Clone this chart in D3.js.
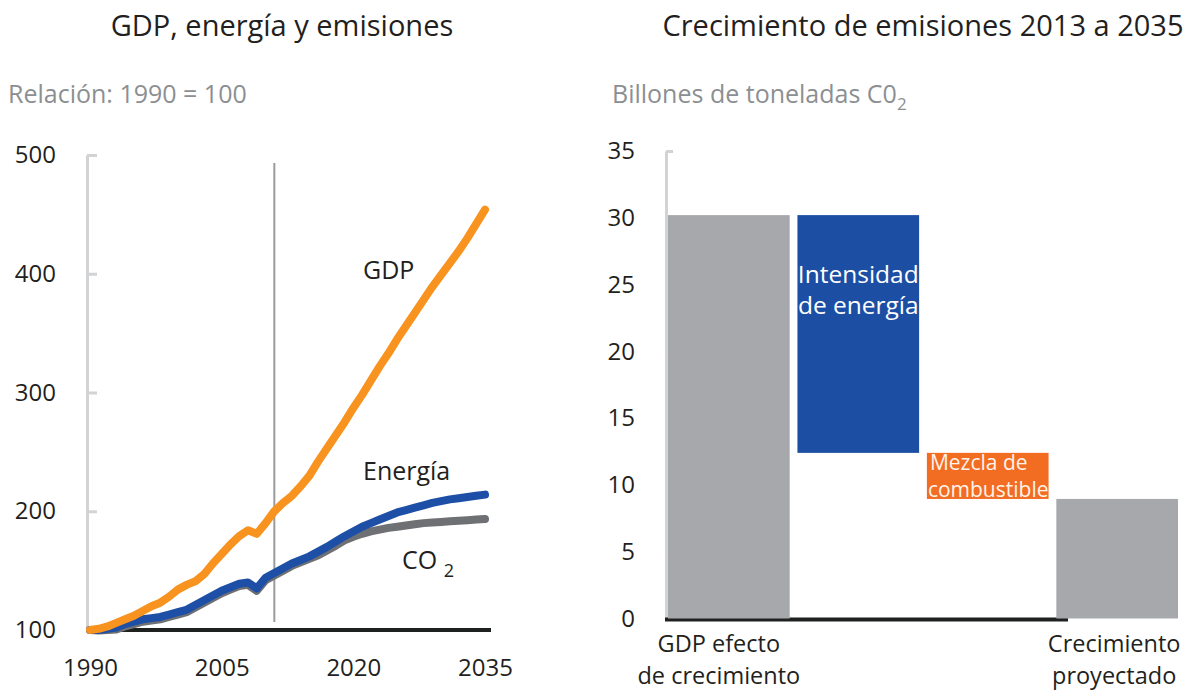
<!DOCTYPE html>
<html>
<head>
<meta charset="utf-8">
<script src="https://cdn.jsdelivr.net/npm/d3@7"></script>
<style>
  body { margin: 0; background: #fff; }
  svg { display: block; font-family: "Open Sans", sans-serif; }
</style>
</head>
<body>
<svg id="chart" width="1193" height="694"></svg>
<script>
// left panel: index 1990 = 100
var years = d3.range(1990, 2036);
var gdp = [100, 101, 103, 106, 109, 112, 116, 120, 123, 128, 134, 138, 141, 147, 156, 164, 172, 179, 184, 181,
  190, 200, 207, 213, 221, 230, 242, 253, 264, 275, 287, 298, 310, 322, 333, 345, 356, 367, 378, 389,
  399, 409, 419, 430, 442, 454];
var energia = [100, 100, 101, 102, 105, 107, 109, 110, 111, 113, 115, 117, 121, 125, 129, 133, 136, 139, 140, 135,
  144, 148, 152, 156, 159, 162, 166, 170, 174.5, 179, 183, 187, 190, 193, 196, 199, 201, 203, 205, 207,
  208.5, 210, 211, 212, 213, 214];
var co2 = [100, 99.5, 100, 100.5, 103, 105, 107, 108, 109, 111, 113, 115, 119, 123, 127, 131, 134, 137, 138, 133,
  142, 146, 150, 154, 157, 160, 163, 167, 171, 175.5, 178.5, 181, 183, 184.5, 186, 187, 188, 189, 190, 190.5,
  191, 191.5, 192, 192.5, 193, 193.5];
var leftTicksY = [100, 200, 300, 400, 500];
var leftTicksX = [1990, 2005, 2020, 2035];
var markerYear = 2011;

// right panel: waterfall, billions of tonnes
var wfCategories = ["GDP efecto de crecimiento", "Intensidad de energía", "Mezcla de combustible", "Crecimiento proyectado"];
var wfChanges = [30.2, -17.8, -3.45, null]; // null = total
var wfColors = ["#a6a8ab", "#1c4ea3", "#f26c22", "#a6a8ab"];
var rightTicksY = [0, 5, 10, 15, 20, 25, 30, 35];

var svg = d3.select("#chart");
var ink = "#231f20";

// ---------- left panel ----------
var x = d3.scaleLinear().domain([1990, 2035]).range([90, 485]);
var y = d3.scaleLinear().domain([100, 500]).range([630, 155]);

svg.append("text").attr("x", 282).attr("y", 36).attr("text-anchor", "middle")
  .attr("font-size", 29).attr("fill", ink).text("GDP, energía y emisiones");
svg.append("text").attr("x", 8).attr("y", 103)
  .attr("font-size", 25).attr("fill", "#8c8f92").text("Relación: 1990 = 100");

var yAxisL = svg.append("g").attr("transform", "translate(87,0)")
  .call(d3.axisLeft(y).tickValues(leftTicksY).tickSize(-10).tickSizeOuter(0).tickPadding(31));
yAxisL.select(".domain").attr("stroke", "#d2d3d4").attr("stroke-width", 3);
yAxisL.selectAll(".tick line").attr("stroke", "#d2d3d4").attr("stroke-width", 3);
yAxisL.selectAll(".tick text").attr("font-size", 24).attr("fill", ink).attr("font-family", "Open Sans");

var xAxisL = svg.append("g").attr("transform", "translate(0,630)")
  .call(d3.axisBottom(x).tickValues(leftTicksX).tickSize(0).tickPadding(29).tickFormat(d3.format("d")));
xAxisL.select(".domain").remove();
xAxisL.selectAll(".tick text").attr("font-size", 24).attr("fill", ink).attr("font-family", "Open Sans");

// projection marker
svg.append("line").attr("x1", x(markerYear)).attr("x2", x(markerYear))
  .attr("y1", 163).attr("y2", 622).attr("stroke", "#9a9b9d").attr("stroke-width", 2);

// black baseline
svg.append("line").attr("x1", x(1990)).attr("x2", x(2035) + 6)
  .attr("y1", y(100)).attr("y2", y(100)).attr("stroke", "#1f2120").attr("stroke-width", 4);

var line = d3.line().x(function(d, i) { return x(years[i]); }).y(function(d) { return y(d); });
[[co2, "#6e7073"], [energia, "#1e4fa6"], [gdp, "#f7931e"]].forEach(function(s) {
  svg.append("path").datum(s[0]).attr("d", line)
    .attr("fill", "none").attr("stroke", s[1]).attr("stroke-width", 8)
    .attr("stroke-linecap", "round").attr("stroke-linejoin", "round");
});

svg.append("text").attr("x", 363).attr("y", 279).attr("font-size", 25).attr("fill", ink).text("GDP");
svg.append("text").attr("x", 363).attr("y", 480).attr("font-size", 25).attr("fill", ink).text("Energía");
var co2Label = svg.append("text").attr("x", 402).attr("y", 569).attr("font-size", 25).attr("fill", ink);
co2Label.append("tspan").text("CO ");
co2Label.append("tspan").attr("font-size", 18).attr("dy", 8).text("2");

// ---------- right panel ----------
var yR = d3.scaleLinear().domain([0, 35]).range([618.5, 151]);
var xR = d3.scaleBand().domain(wfCategories).range([668, 1178]).paddingInner(0.06).paddingOuter(0);

svg.append("text").attr("x", 923).attr("y", 36).attr("text-anchor", "middle")
  .attr("font-size", 29).attr("fill", ink).text("Crecimiento de emisiones 2013 a 2035");
var sub = svg.append("text").attr("x", 612).attr("y", 103).attr("font-size", 25).attr("fill", "#8c8f92");
sub.append("tspan").text("Billones de toneladas C0");
sub.append("tspan").attr("font-size", 17).attr("dy", 7).text("2");

var yAxisR = svg.append("g").attr("transform", "translate(666,0)")
  .call(d3.axisLeft(yR).tickValues(rightTicksY).tickSize(-7).tickSizeOuter(0).tickPadding(31));
yAxisR.select(".domain").attr("stroke", "#d2d3d4").attr("stroke-width", 3);
yAxisR.selectAll(".tick line").attr("stroke", "#d2d3d4").attr("stroke-width", 3);
yAxisR.selectAll(".tick text").attr("font-size", 24).attr("fill", ink).attr("font-family", "Open Sans");

svg.append("line").attr("x1", 665).attr("x2", 1068)
  .attr("y1", yR(0) + 1).attr("y2", yR(0) + 1).attr("stroke", "#1f2120").attr("stroke-width", 4);

// running totals for the waterfall
var running = 0;
var wfBars = wfCategories.map(function(c, i) {
  var start, end;
  if (wfChanges[i] === null) { start = 0; end = running; }
  else { start = running; end = running + wfChanges[i]; running = end; }
  return { cat: c, lo: Math.min(start, end), hi: Math.max(start, end), color: wfColors[i] };
});

svg.selectAll(".wf").data(wfBars).enter().append("rect")
  .attr("x", function(d) { return xR(d.cat); })
  .attr("width", xR.bandwidth())
  .attr("y", function(d) { return yR(d.hi); })
  .attr("height", function(d) { return yR(d.lo) - yR(d.hi); })
  .attr("fill", function(d) { return d.color; });

// labels under the axis
function twoLines(cx, y0, lines, size, color, gap) {
  lines.forEach(function(l, i) {
    svg.append("text").attr("font-size", size).attr("fill", color).attr("text-anchor", "middle")
      .attr("x", cx).attr("y", y0 + i * gap).text(l);
  });
}
twoLines(xR(wfCategories[0]) + xR.bandwidth() / 2 - 10, 652, ["GDP efecto", "de crecimiento"], 23.5, ink, 32);
twoLines(xR(wfCategories[3]) + xR.bandwidth() / 2 - 3, 652, ["Crecimiento", "proyectado"], 23.5, ink, 32);
// labels inside bars
twoLines(xR(wfCategories[1]) + xR.bandwidth() / 2, 283, ["Intensidad", "de energía"], 24.5, "#ffffff", 31);
var t3 = svg.append("text").attr("font-size", 21).attr("fill", "#fff3ea");
t3.append("tspan").attr("x", xR(wfCategories[2]) + 3).attr("y", 470).text("Mezcla de");
t3.append("tspan").attr("x", xR(wfCategories[2]) + 1).attr("y", 497).text("combustible");
</script>
</body>
</html>
